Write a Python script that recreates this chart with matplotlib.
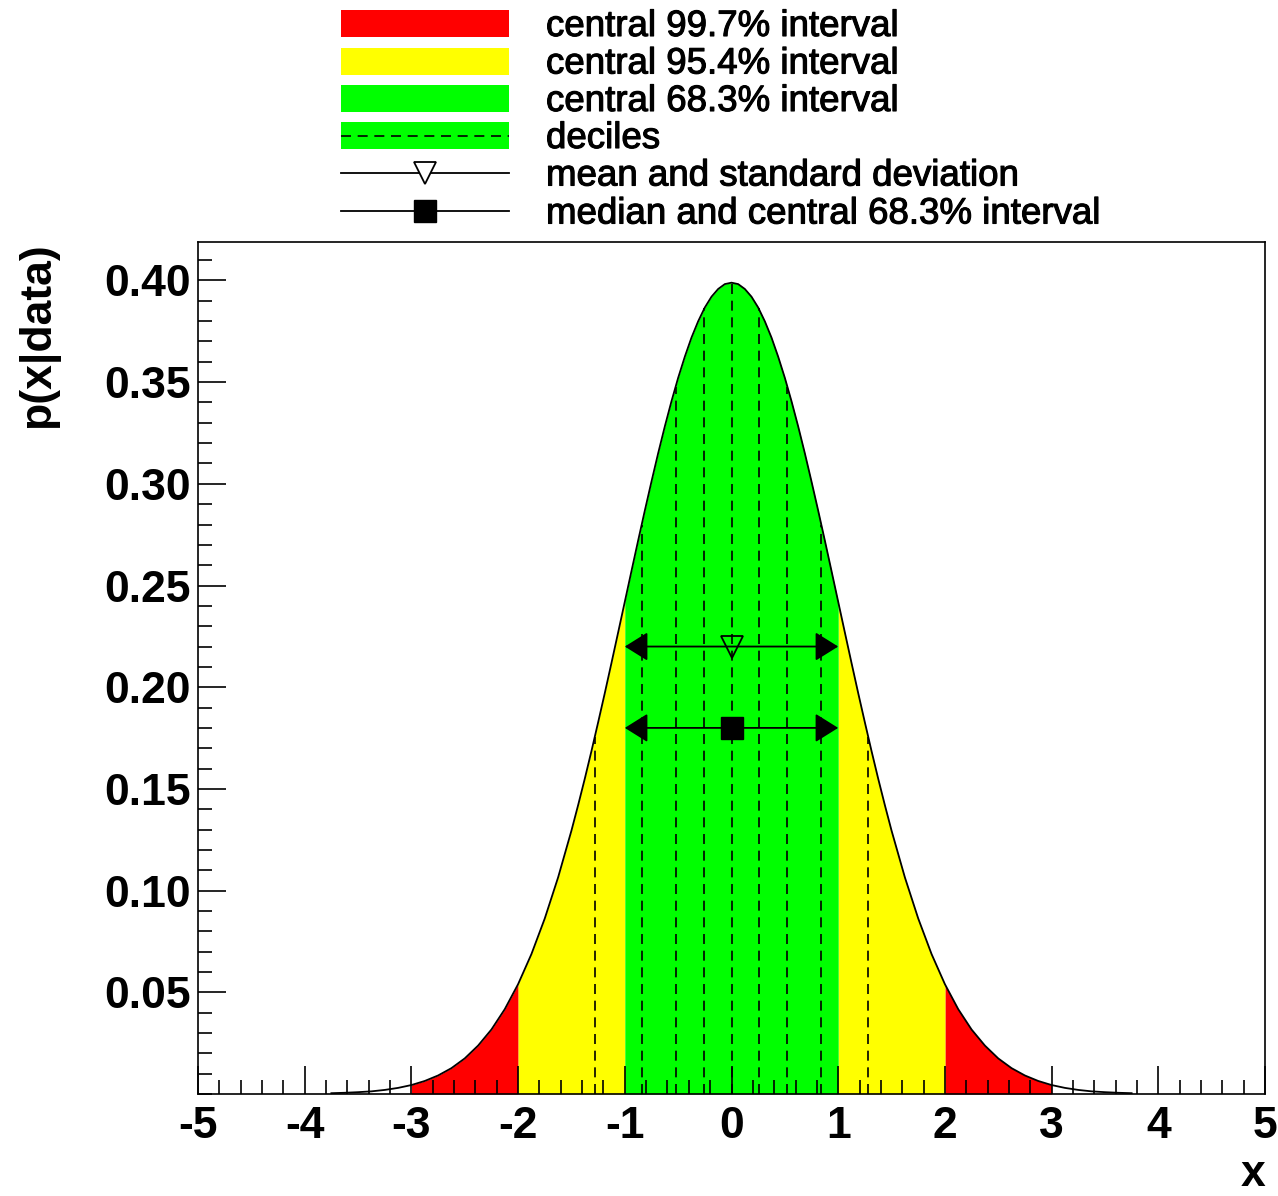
import matplotlib
matplotlib.use("Agg")
from matplotlib import pyplot as plt
from matplotlib.patches import Rectangle
from matplotlib.ticker import MultipleLocator, FixedLocator
import matplotlib.patheffects as pe
import numpy as np

plt.rcParams['font.family'] = ['Liberation Sans', 'DejaVu Sans']
plt.rcParams['axes.unicode_minus'] = False

# posterior density (symmetric about 0)
x_half = [0.0, 0.0625, 0.125, 0.1875, 0.25, 0.3125, 0.375, 0.4375, 0.5,
          0.5625, 0.625, 0.6875, 0.75, 0.8125, 0.875, 0.9375, 1.0, 1.0625,
          1.125, 1.1875, 1.25, 1.3125, 1.375, 1.4375, 1.5, 1.625, 1.75,
          1.875, 2.0, 2.125, 2.25, 2.375, 2.5, 2.625, 2.75, 2.875, 3.0,
          3.125, 3.25, 3.375, 3.5, 3.625, 3.75]
p_half = [0.3989, 0.3982, 0.3958, 0.3920, 0.3867, 0.3799, 0.3719, 0.3625,
          0.3521, 0.3406, 0.3282, 0.3150, 0.3011, 0.2868, 0.2721, 0.2571,
          0.2420, 0.2269, 0.2119, 0.1971, 0.1827, 0.1686, 0.1550, 0.1420,
          0.1295, 0.1065, 0.0863, 0.0688, 0.0540, 0.0417, 0.0317, 0.0238,
          0.0175, 0.0127, 0.0091, 0.0064, 0.0044, 0.0030, 0.0020, 0.0013,
          0.0009, 0.0006, 0.0004]

# interval edges
edges_997 = [-3.0, 3.0]
edges_954 = [-2.0, 2.0]
edges_683 = [-1.0, 1.0]

# deciles and curve height there
decile_x = [-1.2816, -0.8416, -0.5244, -0.2533, 0.0, 0.2533, 0.5244, 0.8416, 1.2816]
decile_p = [0.1755, 0.2800, 0.3477, 0.3863, 0.3989, 0.3863, 0.3477, 0.2800, 0.1755]

mean, std, mean_y = 0.0, 1.0, 0.22
median, med_lo, med_hi, median_y = 0.0, -1.0, 1.0, 0.18

legend_labels = ["central 99.7% interval", "central 95.4% interval",
                 "central 68.3% interval", "deciles",
                 "mean and standard deviation", "median and central 68.3% interval"]

x = np.array([-v for v in x_half[::-1]] + x_half[1:])
p = np.array(p_half[::-1] + p_half[1:])

fig = plt.figure(figsize=(12.78, 11.96), dpi=100)
ax = fig.add_axes([198/1278, 102/1196, 1067/1278, 852/1196])

def band(lo, hi, color):
    m = (x >= lo - 1e-9) & (x <= hi + 1e-9)
    ax.fill_between(x[m], 0, p[m], color=color, lw=0, zorder=1)

band(edges_997[0], edges_954[0], '#ff0000')
band(edges_954[1], edges_997[1], '#ff0000')
band(edges_954[0], edges_683[0], '#ffff00')
band(edges_683[1], edges_954[1], '#ffff00')
band(edges_683[0], edges_683[1], '#00ff00')

ax.vlines(decile_x, 0, decile_p, colors='k', linestyles=(0, (6, 4)), lw=1.2, zorder=2)
ax.plot(x, p, color='k', lw=1.3, zorder=3)

ar = dict(arrowstyle='<|-|>,head_length=1.44,head_width=0.9', mutation_scale=10,
          color='k', lw=1.3, shrinkA=0, shrinkB=0)
ax.annotate('', xy=(mean - std, mean_y), xytext=(mean + std, mean_y), arrowprops=ar, zorder=4)
ax.annotate('', xy=(med_lo, median_y), xytext=(med_hi, median_y), arrowprops=ar, zorder=4)
ax.plot([mean], [mean_y], marker='v', ms=16.5, mfc='none', mec='k', mew=1.3, zorder=5)
ax.plot([median], [median_y], marker='s', ms=16.5, color='k', zorder=5)

ax.set_xlim(-5, 5)
ax.set_ylim(0, 0.4189)
ax.xaxis.set_major_locator(MultipleLocator(1))
ax.xaxis.set_minor_locator(MultipleLocator(0.2))
ax.yaxis.set_major_locator(FixedLocator([0.05, 0.10, 0.15, 0.20, 0.25, 0.30, 0.35, 0.40]))
ax.yaxis.set_minor_locator(MultipleLocator(0.01))
ax.yaxis.set_major_formatter(matplotlib.ticker.FormatStrFormatter('%.2f'))
ax.tick_params(which='both', direction='in', top=False, right=False, width=1.2)
ax.tick_params(which='major', length=20)
ax.tick_params(which='minor', length=10)
ax.tick_params(axis='x', pad=9)
ax.tick_params(axis='y', pad=5)
for lab in ax.get_xticklabels() + ax.get_yticklabels():
    lab.set_fontsize(32)
    lab.set_fontweight('bold')
for s in ax.spines.values():
    s.set_linewidth(1.2)

ax.set_xlabel('x', loc='right', fontsize=32, fontweight='bold')
ax.set_ylabel('p(x|data)', loc='top', fontsize=32, fontweight='bold')
ax.xaxis.set_label_coords(1.0, -0.071)
ax.yaxis.set_label_coords(-0.130, 1.0)

# legend drawn in pixel coordinates
lax = fig.add_axes([0, 0, 1, 1], zorder=10)
lax.set_xlim(0, 1278)
lax.set_ylim(1196, 0)
lax.axis('off')
rows = [23.5, 61, 98.5, 135.5, 173, 211]
fills = ['#ff0000', '#ffff00', '#00ff00', '#00ff00']
for yc, c in zip(rows[:4], fills):
    lax.add_patch(Rectangle((341, yc - 13.5), 168, 27, color=c, lw=0))
lax.plot([341, 509], [rows[3], rows[3]], color='k', lw=1.2, ls=(0, (6, 4)))
lax.plot([341, 509], [rows[4], rows[4]], color='k', lw=1.3)
lax.plot([425], [rows[4]], marker='v', ms=16.5, mfc='white', mec='k', mew=1.3)
lax.plot([341, 509], [rows[5], rows[5]], color='k', lw=1.3)
lax.plot([425], [rows[5]], marker='s', ms=16.5, color='k')
for yc, t in zip(rows, legend_labels):
    lax.text(546, yc + 12.5, t, fontsize=26.4, va='baseline', ha='left',
             path_effects=[pe.withStroke(linewidth=0.8, foreground='black')])

fig.savefig('out.png', dpi=100)
